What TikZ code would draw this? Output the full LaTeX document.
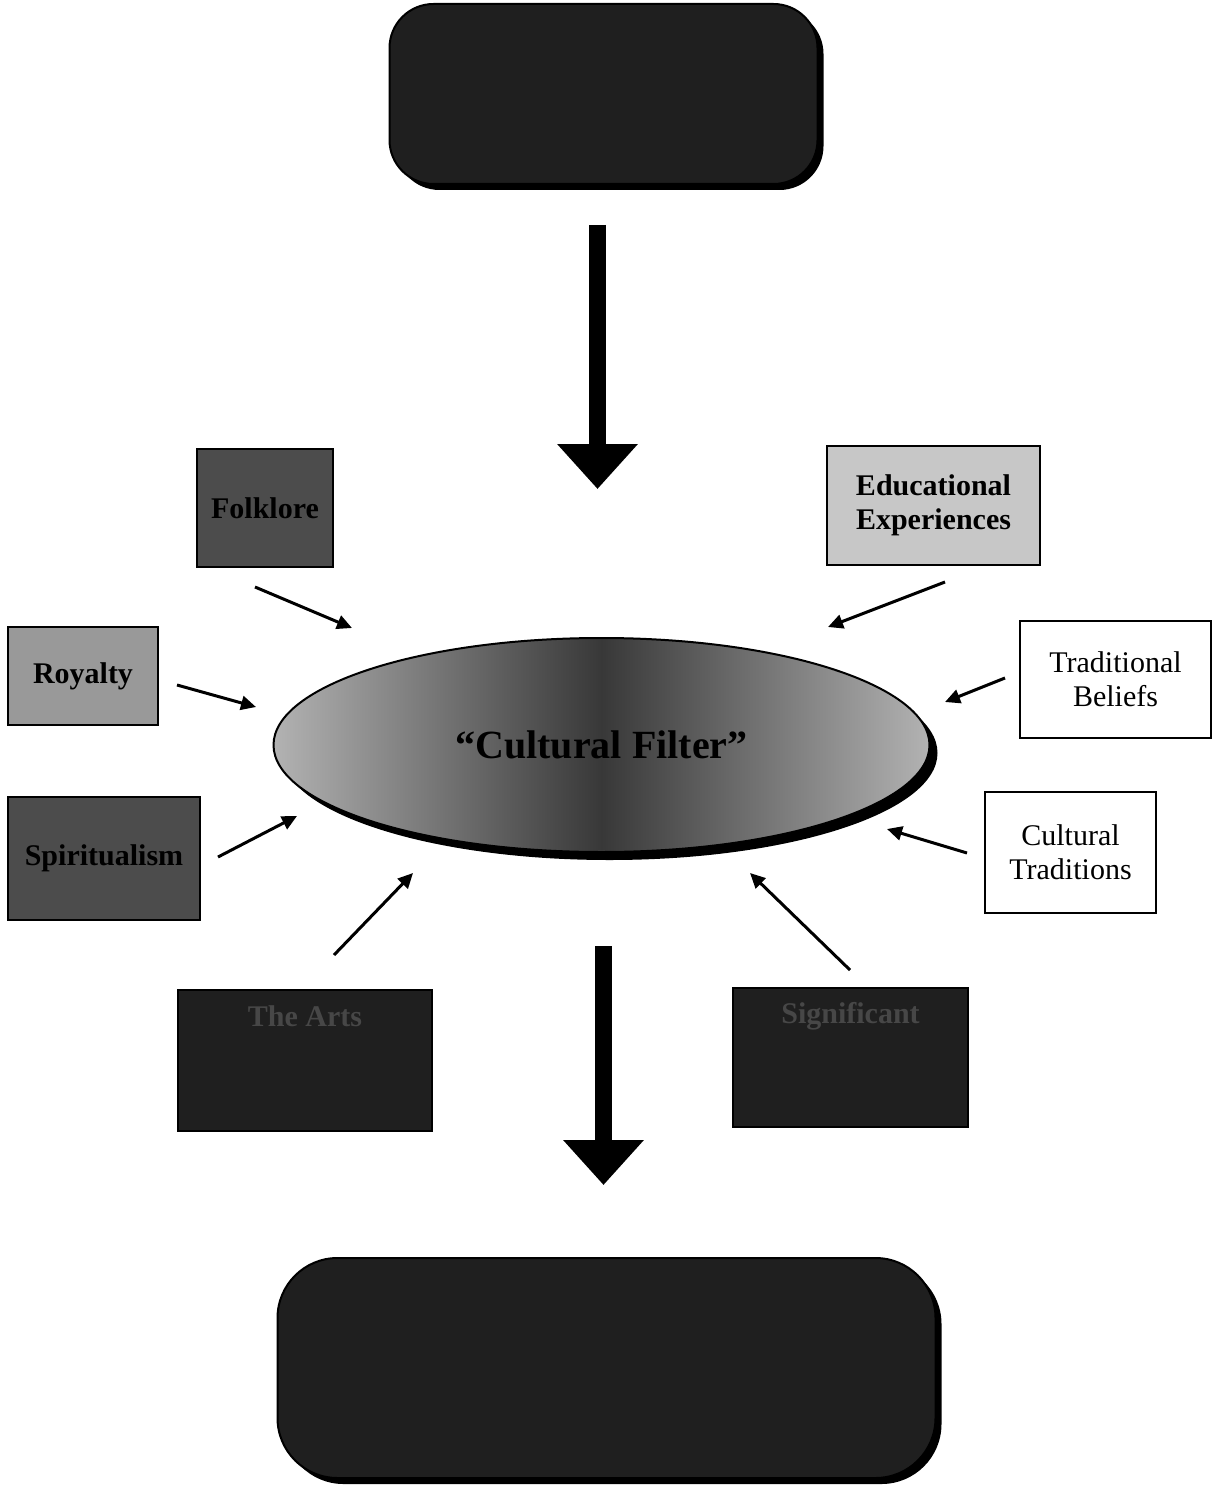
\documentclass[tikz,border=0pt]{standalone}
\usepackage{fontspec}
\setmainfont{Liberation Serif}
\usetikzlibrary{arrows.meta,shadows,shapes.geometric}

\begin{document}
\begin{tikzpicture}[x=0.5pt,y=-0.5pt,
  infl/.style n args={3}{rectangle,draw=black,line width=1pt,fill=#1,minimum width=#2,minimum height=#3,inner sep=0pt,align=center,font=\fontsize{15}{17}\selectfont},
  dkbox/.style n args={3}{rectangle,draw=black,line width=1pt,fill=black!88,rounded corners=#1,minimum width=#2,minimum height=#3,inner sep=0pt,drop shadow={shadow xshift=3pt,shadow yshift=-3pt,fill=black,opacity=1}},
  feed/.style={-{Triangle[length=7.5pt,width=7pt]},line width=1.5pt},
  bigarr/.style={-{Triangle[length=22.5pt,width=39pt]},line width=8.5pt}]
\useasboundingbox (0,0) rectangle (1213,1486);
% source and result
\node[dkbox={22pt}{214pt}{90pt}](src) at (603.5,94) {};
\node[dkbox={30pt}{329pt}{110pt}](res) at (606.5,1368) {};
% the filter
\node[ellipse,draw=black,line width=1pt,minimum width=328pt,minimum height=107pt,
   left color=black!30,right color=black!30,middle color=black!78,
   drop shadow={shadow xshift=4pt,shadow yshift=-4pt,fill=black,opacity=1},
   font=\bfseries\fontsize{20}{22}\selectfont](cf) at (601.5,745) {“Cultural Filter”};
% influences
\node[infl={black!70}{68pt}{59pt},font=\bfseries\fontsize{15}{17}\selectfont](fk) at (265,508) {Folklore};
\node[infl={black!22}{106.5pt}{59.5pt},font=\bfseries\fontsize{15}{17}\selectfont](edu) at (933.5,505.5) {Educational\\Experiences};
\node[infl={black!40}{75pt}{49pt},font=\bfseries\fontsize{15}{17}\selectfont](roy) at (83,676) {Royalty};
\node[infl={white}{95.5pt}{58.5pt}](trad) at (1115.5,679.5) {Traditional\\Beliefs};
\node[infl={black!70}{96pt}{61.5pt},font=\bfseries\fontsize{15}{17}\selectfont](spir) at (104,858.5) {Spiritualism};
\node[infl={white}{85.5pt}{60.5pt}](ctrad) at (1070.5,852.5) {Cultural\\Traditions};
\node[infl={black!88}{127pt}{70.5pt}](arts) at (305,1060.5) {};
\node[infl={black!88}{117.5pt}{69.5pt}](sig) at (850.5,1057.5) {};
\node[anchor=north,yshift=-5pt,font=\bfseries\fontsize{15}{17}\selectfont,text=black!72] at (arts.north) {The Arts};
\node[anchor=north,yshift=-4pt,font=\bfseries\fontsize{15}{17}\selectfont,text=black!72] at (sig.north) {Significant};
% main flow
\draw[bigarr,shorten <=20pt,shorten >=74pt] ([xshift=-3pt]src.south) -- ([xshift=-3pt]src.south |- cf.north);
\draw[bigarr,shorten <=46.5pt,shorten >=36pt] ([xshift=1pt]cf.south) -- ([xshift=1pt]cf.south |- res.north);
% small arrows into the filter
\foreach \n/\p/\q in {fk/{255,587}/{352,628},edu/{945,582}/{828,627},
   roy/{177,685}/{256,707},trad/{1005,678}/{945,702},
   spir/{218,857}/{297,816},ctrad/{967,853}/{887,829},
   arts/{334,955}/{413,873},sig/{850,970}/{750,873}} {
   \coordinate (\n-a) at (\p);
   \coordinate (\n-b) at (\q);
   \draw[feed] (\n-a) -- (\n-b);
}
\end{tikzpicture}
\end{document}
